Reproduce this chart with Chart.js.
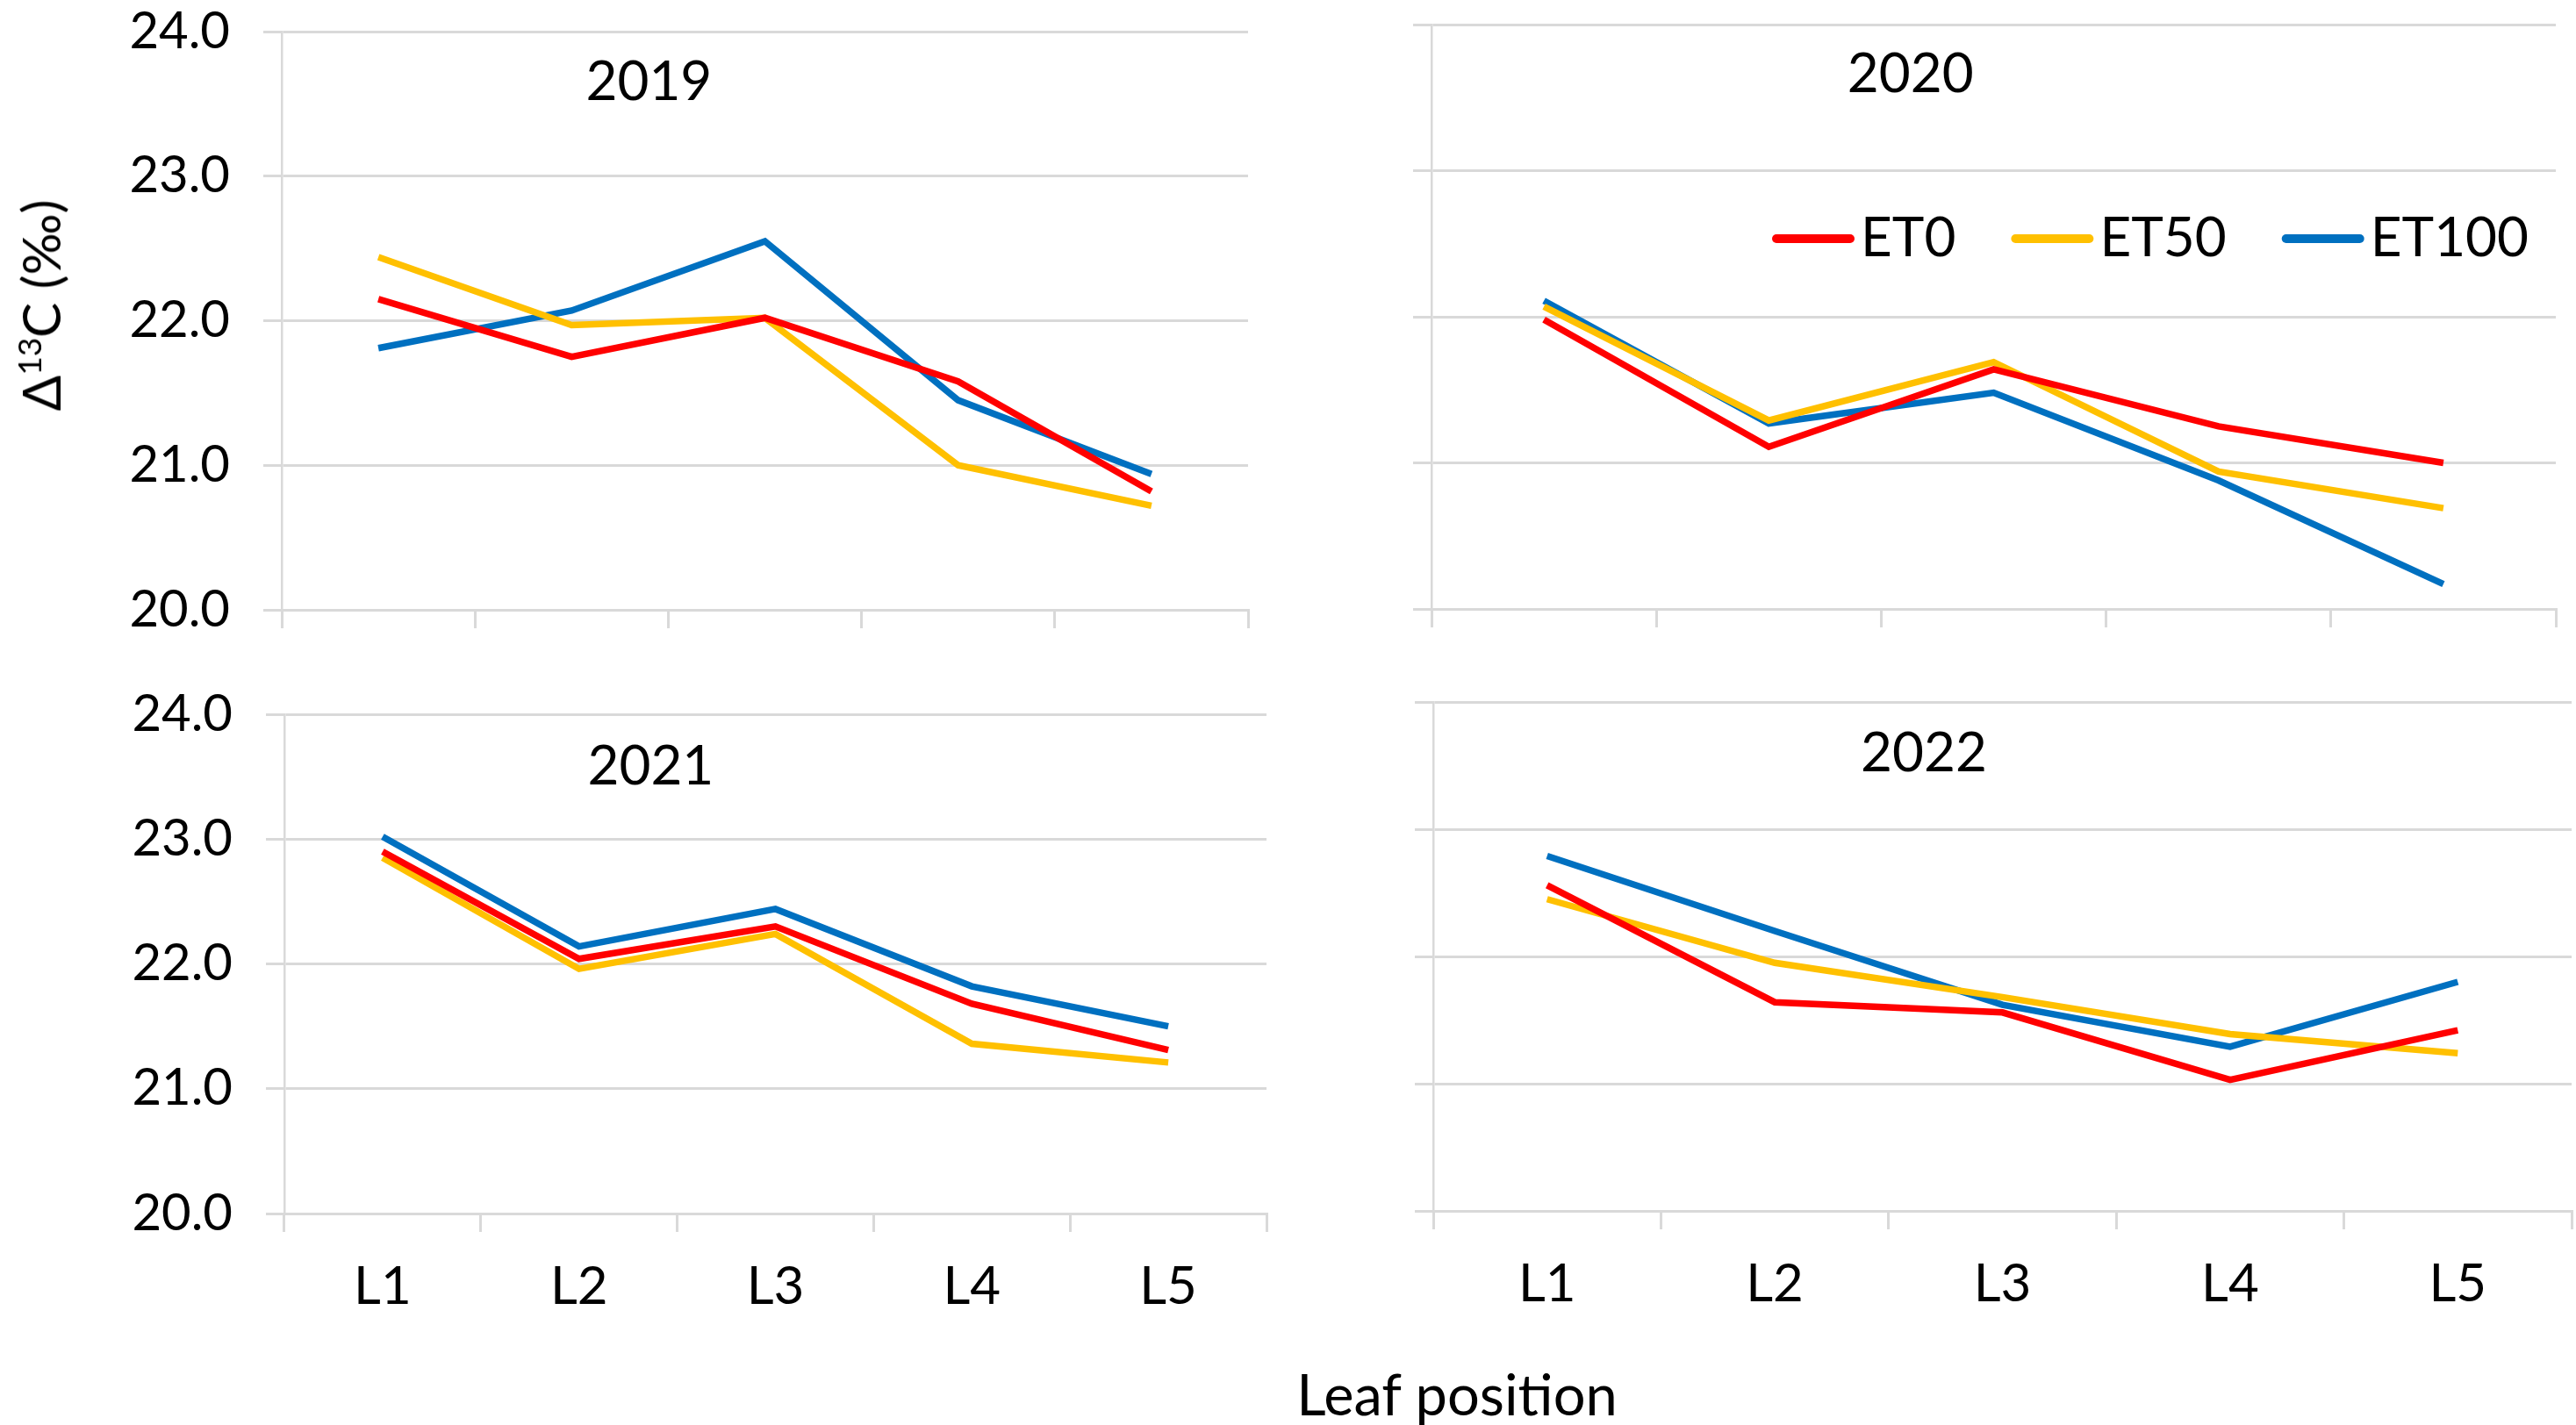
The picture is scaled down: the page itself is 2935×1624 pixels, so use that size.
<!DOCTYPE html>
<html>
<head>
<meta charset="utf-8">
<script src="https://cdn.jsdelivr.net/npm/chart.js@4.4.1/dist/chart.umd.min.js"></script>
<style>
  body { margin: 0; background: #fff; width: 2935px; height: 1624px; overflow: hidden; position: relative;
         font-family: Lato, "DejaVu Sans", sans-serif; color: #000; }
  canvas { position: absolute; }
  #ytitle { position: absolute; left: 46px; top: 348px; transform: translate(-50%, -50%) rotate(-90deg);
            font-size: 60px; white-space: nowrap; }
  #ytitle sup { font-size: 37px; vertical-align: 22px; line-height: 0; }
  #xtitle { position: absolute; left: 1660px; top: 1588px; transform: translate(-50%, -50%);
            font-size: 65px; white-space: nowrap; }
</style>
</head>
<body>
<canvas id="c2019" width="1440" height="740" style="left:0;top:0"></canvas>
<canvas id="c2020" width="1475" height="740" style="left:1460px;top:0"></canvas>
<canvas id="c2021" width="1460" height="740" style="left:0;top:760px"></canvas>
<canvas id="c2022" width="1475" height="740" style="left:1460px;top:760px"></canvas>
<div id="ytitle">Δ<sup>13</sup>C (‰)</div>
<div id="xtitle">Leaf position</div>
<script>
// leaf positions and treatments
const leafPositions = ["L1", "L2", "L3", "L4", "L5"];
const treatments = ["ET0", "ET50", "ET100"];
const yTicks = [20, 21, 22, 23, 24];

// Δ13C (‰) per year
const et0_2019 = [22.15, 21.75, 22.02, 21.58, 20.82];
const et50_2019 = [22.44, 21.97, 22.02, 21.00, 20.72];
const et100_2019 = [21.81, 22.07, 22.55, 21.45, 20.94];

const et0_2020 = [21.98, 21.11, 21.64, 21.25, 21.00];
const et50_2020 = [22.07, 21.29, 21.69, 20.94, 20.69];
const et100_2020 = [22.11, 21.27, 21.48, 20.88, 20.17];

const et0_2021 = [22.90, 22.04, 22.30, 21.68, 21.31];
const et50_2021 = [22.85, 21.96, 22.24, 21.36, 21.21];
const et100_2021 = [23.02, 22.14, 22.44, 21.82, 21.50];

const et0_2022 = [22.56, 21.64, 21.56, 21.03, 21.42];
const et50_2022 = [22.45, 21.95, 21.68, 21.39, 21.24];
const et100_2022 = [22.79, 22.20, 21.62, 21.29, 21.80];

const colors = ["#FF0000", "#FFC000", "#0070C0"];
const FONT = "Lato, 'DejaVu Sans', sans-serif";
const gridColor = "#D9D9D9";

Chart.defaults.color = "#000";
Chart.defaults.font.family = FONT;
Chart.defaults.font.size = 58;

const panelText = {
    id: "panelText",
    afterDraw(chart, args, opts) {
        const ctx = chart.ctx;
        const area = chart.chartArea;
        ctx.save();
        ctx.font = "62px " + FONT;
        ctx.fillStyle = "#000";
        ctx.textBaseline = "middle";
        ctx.textAlign = "center";
        ctx.fillText(opts.title, area.left + (area.right - area.left) * opts.titleX, area.top + opts.titleDy);
        if (opts.legend) {
            let x = opts.legend.x;
            const y = opts.legend.y;
            ctx.textAlign = "left";
            chart.data.datasets.forEach(function (ds) {
                ctx.strokeStyle = ds.borderColor;
                ctx.lineWidth = 10;
                ctx.lineCap = "round";
                ctx.beginPath();
                ctx.moveTo(x, y);
                ctx.lineTo(x + 84, y);
                ctx.stroke();
                x += 96;
                ctx.fillText(ds.label, x, y);
                x += ctx.measureText(ds.label).width + 68;
            });
        }
        ctx.restore();
    }
};

function makePanel(id, year, series, box) {
    new Chart(document.getElementById(id), {
        type: "line",
        data: {
            labels: leafPositions,
            datasets: treatments.map(function (t, i) {
                return {
                    label: t,
                    data: series[i],
                    borderColor: colors[i],
                    backgroundColor: colors[i],
                    borderWidth: 7.5,
                    pointRadius: 0,
                    tension: 0,
                    fill: false
                };
            })
        },
        options: {
            responsive: false,
            animation: false,
            devicePixelRatio: 1,
            layout: { padding: { top: box.padTop, right: box.padRight, left: 0, bottom: 0 } },
            plugins: {
                legend: { display: false },
                tooltip: { enabled: false },
                panelText: { title: year, titleX: box.titleX, titleDy: box.titleDy, legend: box.legend }
            },
            scales: {
                x: {
                    offset: true,
                    grid: { offset: true, drawOnChartArea: false, color: gridColor, lineWidth: 3, tickLength: 21 },
                    border: { color: gridColor, width: 3 },
                    ticks: { display: box.showX, padding: 27, maxRotation: 0, font: { size: 60 } },
                    afterFit: function (s) {
                        s.height = box.axisH;
                        s.paddingLeft = 0; s.paddingRight = 0;
                    }
                },
                y: {
                    min: 20,
                    max: 24,
                    afterBuildTicks: function (s) { s.ticks = yTicks.map(function (v) { return { value: v }; }); },
                    grid: { color: gridColor, lineWidth: 3, tickLength: 21 },
                    border: { color: gridColor, width: 2.5 },
                    ticks: {
                        display: box.showY,
                        padding: 38,
                        callback: function (v) { return Number(v).toFixed(1); }
                    },
                    afterFit: function (s) {
                        s.width = box.axisW;
                        s.paddingTop = 0; s.paddingBottom = 0;
                    }
                }
            }
        },
        plugins: [panelText]
    });
}

makePanel("c2019", "2019", [et0_2019, et50_2019, et100_2019],
    { axisW: 321, axisH: 45, padTop: 36, padRight: 18, showX: false, showY: true, titleX: 0.38, titleDy: 58 });
makePanel("c2020", "2020", [et0_2020, et50_2020, et100_2020],
    { axisW: 171, axisH: 46, padTop: 28, padRight: 23, showX: false, showY: false, titleX: 0.426, titleDy: 57,
      legend: { x: 564, y: 272 } });
makePanel("c2021", "2021", [et0_2021, et50_2021, et100_2021],
    { axisW: 324, axisH: 117, padTop: 54, padRight: 17, showX: true, showY: true, titleX: 0.373, titleDy: 60 });
makePanel("c2022", "2022", [et0_2022, et50_2022, et100_2022],
    { axisW: 173, axisH: 120, padTop: 40, padRight: 5, showX: true, showY: false, titleX: 0.431, titleDy: 59 });
</script>
</body>
</html>
